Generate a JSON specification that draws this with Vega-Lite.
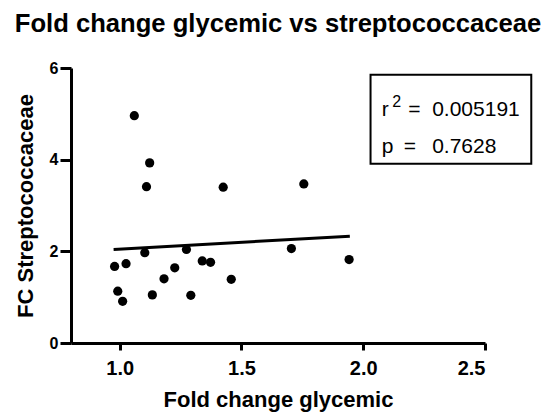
{
  "$schema": "https://vega.github.io/schema/vega-lite/v6.json",
  "width": 414,
  "height": 275,
  "autosize": {"type": "none"},
  "padding": {"left": 71, "top": 68, "right": 65, "bottom": 71},
  "background": "white",
  "config": {
    "font": "Liberation Sans",
    "view": {"stroke": null},
    "axis": {
      "grid": false,
      "domainColor": "black",
      "domainWidth": 3,
      "tickColor": "black",
      "tickWidth": 3,
      "labelFont": "Liberation Sans",
      "titleFont": "Liberation Sans",
      "titleFontSize": 22,
      "titleFontWeight": "bold",
      "titleColor": "black"
    }
  },
  "title": {
    "text": "Fold change glycemic vs streptococcaceae",
    "fontSize": 25.6,
    "fontWeight": "bold",
    "font": "Liberation Sans",
    "color": "black",
    "anchor": "middle",
    "offset": 22
  },
  "datasets": {
    "points": [
      {"x": 1.06, "y": 4.96},
      {"x": 1.123, "y": 3.93},
      {"x": 1.11, "y": 3.41},
      {"x": 1.425, "y": 3.40},
      {"x": 1.756, "y": 3.47},
      {"x": 1.103, "y": 1.97},
      {"x": 1.274, "y": 2.04},
      {"x": 1.705, "y": 2.06},
      {"x": 1.942, "y": 1.82},
      {"x": 0.979, "y": 1.67},
      {"x": 1.026, "y": 1.73},
      {"x": 1.226, "y": 1.64},
      {"x": 1.339, "y": 1.79},
      {"x": 1.373, "y": 1.76},
      {"x": 1.182, "y": 1.40},
      {"x": 1.458, "y": 1.39},
      {"x": 0.992, "y": 1.13},
      {"x": 1.012, "y": 0.91},
      {"x": 1.134, "y": 1.05},
      {"x": 1.292, "y": 1.04}
    ],
    "fit": [
      {"x": 0.975, "y": 2.04},
      {"x": 1.945, "y": 2.33}
    ],
    "box": [
      {"x": 2.03, "x2": 2.69, "y": 5.854, "y2": 3.912}
    ],
    "labels": [
      {"x": 2.076, "y": 4.944, "label": "r"},
      {"x": 2.185, "y": 4.944, "label": "="},
      {"x": 2.283, "y": 4.944, "label": "0.005191"},
      {"x": 2.076, "y": 4.146, "label": "p"},
      {"x": 2.166, "y": 4.146, "label": "="},
      {"x": 2.283, "y": 4.146, "label": "0.7628"}
    ],
    "sup": [
      {"x": 2.119, "y": 5.16, "label": "2"}
    ]
  },
  "layer": [
    {
      "data": {"name": "points"},
      "mark": {"type": "circle", "size": 85, "color": "black", "opacity": 1},
      "encoding": {
        "x": {
          "field": "x",
          "type": "quantitative",
          "scale": {"domain": [0.8, 2.5], "nice": false, "zero": false},
          "axis": {
            "title": "Fold change glycemic",
            "values": [1, 1.5, 2, 2.5],
            "format": ".1f",
            "tickSize": 7,
            "tickWidth": 3,
            "labelFontSize": 20,
            "labelColor": "black",
            "labelFontWeight": "bold",
            "labelPadding": 8,
            "titlePadding": 11
          }
        },
        "y": {
          "field": "y",
          "type": "quantitative",
          "scale": {"domain": [0, 6], "nice": false, "zero": false},
          "axis": {
            "title": "FC Streptococcaceae",
            "values": [0, 2, 4, 6],
            "format": "d",
            "tickSize": 11,
            "tickWidth": 3,
            "labelFontSize": 16,
            "labelColor": "black",
            "labelFontWeight": "bold",
            "labelPadding": 2,
            "titlePadding": 12
          }
        }
      }
    },
    {
      "data": {"name": "box"},
      "mark": {"type": "rect", "fill": null, "fillOpacity": 0, "stroke": "black", "strokeWidth": 2, "clip": false},
      "encoding": {
        "x": {"field": "x", "type": "quantitative"},
        "x2": {"field": "x2"},
        "y": {"field": "y", "type": "quantitative"},
        "y2": {"field": "y2"}
      }
    },
    {
      "data": {"name": "labels"},
      "mark": {"type": "text", "align": "left", "baseline": "alphabetic", "fontSize": 21, "font": "Liberation Sans", "color": "black"},
      "encoding": {
        "x": {"field": "x", "type": "quantitative"},
        "y": {"field": "y", "type": "quantitative"},
        "text": {"field": "label"}
      }
    },
    {
      "data": {"name": "sup"},
      "mark": {"type": "text", "align": "left", "baseline": "alphabetic", "fontSize": 16, "font": "Liberation Sans", "color": "black"},
      "encoding": {
        "x": {"field": "x", "type": "quantitative"},
        "y": {"field": "y", "type": "quantitative"},
        "text": {"field": "label"}
      }
    },
    {
      "data": {"name": "fit"},
      "mark": {"type": "line", "color": "black", "strokeWidth": 3},
      "encoding": {
        "x": {"field": "x", "type": "quantitative"},
        "y": {"field": "y", "type": "quantitative"}
      }
    }
  ]
}
